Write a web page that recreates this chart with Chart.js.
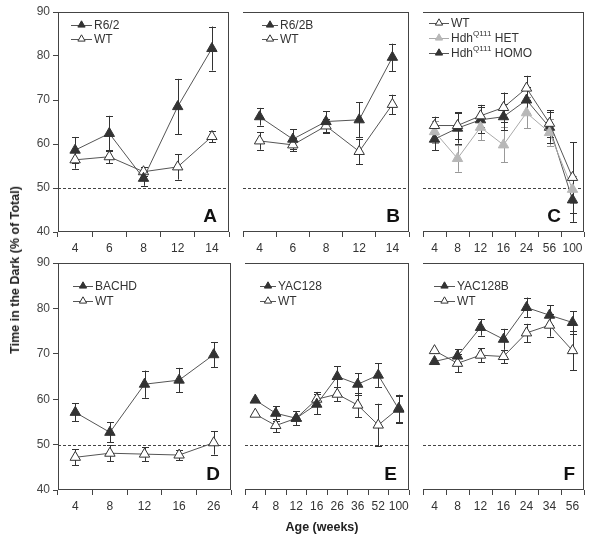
<!DOCTYPE html>
<html><head><meta charset="utf-8">
<script src="https://cdn.jsdelivr.net/npm/chart.js@4/dist/chart.umd.min.js"></script>
<style>
html,body{margin:0;padding:0;background:#fff;width:600px;height:539px;overflow:hidden;font-family:"Liberation Sans",Arial,sans-serif}
canvas{position:absolute}
#ytitle{position:absolute;left:15px;top:270px;transform:translate(-50%,-50%) rotate(-90deg);font-weight:bold;font-size:12.5px;color:#222;white-space:nowrap}
#xtitle{position:absolute;left:322px;top:527px;transform:translate(-50%,-50%);font-weight:bold;font-size:12.5px;color:#222;white-space:nowrap}
</style></head><body>
<canvas id="cA" width="236" height="262" style="left:0;top:0"></canvas>
<canvas id="cB" width="180" height="262" style="left:236px;top:0"></canvas>
<canvas id="cC" width="175" height="262" style="left:416px;top:0"></canvas>
<canvas id="cD" width="238" height="290" style="left:0;top:250px"></canvas>
<canvas id="cE" width="178" height="290" style="left:238px;top:250px"></canvas>
<canvas id="cF" width="175" height="290" style="left:416px;top:250px"></canvas>
<div id="ytitle">Time in the Dark (% of Total)</div>
<div id="xtitle">Age (weeks)</div>
<script>
// ---- data ----
const ageA = ['4','6','8','12','14'];
const r62 = [58.6, 62.4, 52.2, 68.5, 81.7];
const r62Err = [3, 4, 1.7, 6.3, 5];
const wtA = [56.4, 57.1, 53.7, 54.8, 61.7];
const wtAErr = [2, 1.5, 1, 2.9, 1.3];

const ageB = ['4','6','8','12','14'];
const r62b = [66.2, 61.1, 65.1, 65.5, 79.7];
const r62bErr = [2, 2.2, 2.4, 4, 3.1];
const wtB = [60.7, 59.8, 64.1, 58.3, 69.0];
const wtBErr = [2, 1.5, 1.5, 2.9, 2.2];

const ageC = ['4','8','12','16','24','56','100'];
const wtC = [64.2, 64.2, 66.4, 68.3, 72.7, 64.7, 52.4];
const wtCErr = [2, 3, 2.5, 3.4, 2.8, 3, 8];
const hetC = [62.8, 56.7, 63.8, 59.8, 67.1, 62.6, 49.7];
const hetCErr = [2.5, 3, 3, 4, 3.5, 3, 3];
const homoC = [61.1, 63.6, 65.5, 66.2, 70.0, 63.8, 47.3];
const homoCErr = [2.5, 3.5, 3, 3, 3, 3.5, 5];

const ageD = ['4','8','12','16','26'];
const bachd = [57.1, 52.7, 63.3, 64.2, 69.8];
const bachdErr = [2, 2.2, 3, 2.7, 2.8];
const wtD = [47.2, 48.1, 47.9, 47.7, 50.4];
const wtDErr = [1.8, 1.8, 1.5, 1.2, 2.6];

const ageE = ['4','8','12','16','26','36','52','100'];
const yac = [59.8, 56.9, 55.8, 58.9, 65.0, 63.3, 65.3, 57.8];
const yacErr = [0, 1.6, 1.5, 2.2, 2.3, 2.4, 2.6, 3];
const wtE = [56.7, 54.2, 55.8, 60.0, 61.1, 58.7, 54.3, 58.0];
const wtEErr = [0, 1.5, 1.5, 1.6, 1.5, 2.7, 4.7, 3];

const ageF = ['4','8','12','16','24','34','56'];
const yacb = [68.3, 69.5, 75.8, 73.2, 80.2, 78.5, 76.9];
const yacbErr = [0, 1.5, 1.8, 2.3, 2.2, 2.2, 2.5];
const wtF = [70.7, 67.9, 69.7, 69.4, 74.6, 76.3, 70.7];
const wtFErr = [0, 2, 1.5, 1.5, 2, 2.5, 4.3];

const yTicks = [40, 50, 60, 70, 80, 90];
const refLine = 50;

// ---- styles ----
const FONT = '"Liberation Sans", Arial, Helvetica, sans-serif';
Chart.defaults.font.family = FONT;
const DARK = '#333';
const LINE = '#555';
const GRAY = '#b8b8b8';

function filled(label, data, err, parts) {
  return {label, data, errors: err, legendParts: parts || [[label, false]],
    borderColor: LINE, borderWidth: 1, pointStyle: 'triangle', pointRadius: 6,
    pointBackgroundColor: DARK, pointBorderColor: DARK, pointBorderWidth: 1,
    errColor: DARK, tension: 0, fill: false};
}
function open(label, data, err, parts) {
  return {label, data, errors: err, legendParts: parts || [[label, false]],
    borderColor: LINE, borderWidth: 1, pointStyle: 'triangle', pointRadius: 6,
    pointBackgroundColor: '#fff', pointBorderColor: DARK, pointBorderWidth: 1,
    errColor: DARK, tension: 0, fill: false};
}
function grayS(label, data, err, parts) {
  return {label, data, errors: err, legendParts: parts || [[label, false]],
    borderColor: '#aaa', borderWidth: 1, pointStyle: 'triangle', pointRadius: 6,
    pointBackgroundColor: GRAY, pointBorderColor: GRAY, pointBorderWidth: 1,
    errColor: '#999', tension: 0, fill: false};
}

function tri(ctx, x, y, r, fillC, strokeC) {
  ctx.beginPath();
  for (let k = 0; k < 3; k++) {
    const a = k * 2 * Math.PI / 3;
    const px = x + Math.sin(a) * r, py = y - Math.cos(a) * r;
    if (k === 0) ctx.moveTo(px, py); else ctx.lineTo(px, py);
  }
  ctx.closePath();
  ctx.fillStyle = fillC; ctx.fill();
  ctx.strokeStyle = strokeC; ctx.lineWidth = 1; ctx.stroke();
}

const decor = {
  id: 'decor',
  beforeDatasetsDraw(chart, args, o) {
    const {ctx, chartArea: a} = chart;
    const y = chart.scales.y;
    ctx.save();
    const y50 = Math.round(y.getPixelForValue(refLine)) + 0.5;
    ctx.strokeStyle = '#444'; ctx.lineWidth = 1; ctx.setLineDash([3, 2]);
    ctx.beginPath(); ctx.moveTo(a.left, y50); ctx.lineTo(a.right, y50); ctx.stroke();
    ctx.setLineDash([]);
    chart.data.datasets.forEach((ds, i) => {
      const meta = chart.getDatasetMeta(i);
      ds.errors.forEach((e, j) => {
        if (!e) return;
        const px = Math.round(meta.data[j].x) + 0.5;
        const t = y.getPixelForValue(ds.data[j] + e), b = y.getPixelForValue(ds.data[j] - e);
        ctx.strokeStyle = ds.errColor; ctx.lineWidth = 1;
        ctx.beginPath();
        ctx.moveTo(px, t); ctx.lineTo(px, b);
        ctx.moveTo(px - 3.5, Math.round(t) + 0.5); ctx.lineTo(px + 3.5, Math.round(t) + 0.5);
        ctx.moveTo(px - 3.5, Math.round(b) + 0.5); ctx.lineTo(px + 3.5, Math.round(b) + 0.5);
        ctx.stroke();
      });
    });
    ctx.restore();
  },
  afterDraw(chart, args, o) {
    const {ctx, chartArea: a} = chart;
    ctx.save();
    // frame
    ctx.strokeStyle = '#444'; ctx.lineWidth = 1;
    const L = Math.round(a.left) + 0.5, R = Math.round(a.right) - 0.5;
    const T = Math.round(a.top) + 0.5, B = Math.round(a.bottom) - 0.5;
    ctx.beginPath();
    if (o.leftEdge) { ctx.moveTo(L, T); ctx.lineTo(L, B); }
    ctx.moveTo(a.left, T); ctx.lineTo(a.right, T);
    ctx.moveTo(a.left, B); ctx.lineTo(a.right, B);
    ctx.moveTo(R, T); ctx.lineTo(R, B);
    ctx.stroke();
    // legend
    const lg = o.legend;
    ctx.textBaseline = 'middle'; ctx.textAlign = 'left';
    chart.data.datasets.forEach((ds, i) => {
      const yy = a.top + lg.dy + i * lg.gap;
      const x0 = a.left + lg.dx, x1 = x0 + lg.len;
      ctx.strokeStyle = ds.borderColor; ctx.lineWidth = 1;
      ctx.beginPath(); ctx.moveTo(x0, Math.round(yy) + 0.5); ctx.lineTo(x1, Math.round(yy) + 0.5); ctx.stroke();
      tri(ctx, (x0 + x1) / 2, yy, 4.2, ds.pointBackgroundColor, ds.pointBorderColor);
      let tx = x1 + 2;
      ctx.fillStyle = DARK;
      ds.legendParts.forEach(([t, sup]) => {
        ctx.font = (sup ? '8px ' : '12px ') + FONT;
        ctx.fillText(t, tx, sup ? yy - 4 : yy + 0.5);
        tx += ctx.measureText(t).width;
      });
    });
    // panel letter
    ctx.font = 'bold 19px ' + FONT;
    ctx.fillStyle = '#111'; ctx.textAlign = 'right'; ctx.textBaseline = 'alphabetic';
    ctx.fillText(o.letter, a.right - o.letterDx, a.bottom - 10);
    ctx.restore();
  }
};

function makeChart(id, labels, datasets, opt) {
  const yScale = opt.showY ? {
    min: 40, max: 90,
    afterBuildTicks(s) { s.ticks = yTicks.map(v => ({value: v})); },
    ticks: {color: '#444', font: {size: 12}, padding: 3},
    grid: {drawOnChartArea: false, tickLength: 5, color: '#444'},
    border: {display: false},
    afterFit(s) { s.width = opt.yWidth; }
  } : {display: false, min: 40, max: 90};
  return new Chart(document.getElementById(id), {
    type: 'line',
    data: {labels, datasets},
    options: {
      responsive: false, animation: false, events: [],
      layout: {padding: {top: opt.padTop, bottom: opt.padBottom, left: 0, right: 0}},
      scales: {
        x: {
          type: 'category', offset: true,
          grid: {offset: true, drawOnChartArea: false, tickLength: 5, color: '#444'},
          border: {display: false},
          ticks: {color: DARK, font: {size: 12}, padding: 4, maxRotation: 0, autoSkip: false},
          afterFit(s) { s.height = 30; }
        },
        y: yScale
      },
      plugins: {
        legend: {display: false}, tooltip: {enabled: false},
        decor: {letter: opt.letter, letterDx: opt.letterDx, legend: opt.legend, leftEdge: !!opt.showY}
      }
    },
    plugins: [decor]
  });
}

const rowTop = {padTop: 12, padBottom: 0};
const rowBot = {padTop: 13, padBottom: 20};

makeChart('cA', ageA, [filled('R6/2', r62, r62Err), open('WT', wtA, wtAErr)],
  {...rowTop, showY: true, yWidth: 58, letter: 'A', letterDx: 12, legend: {dx: 13, len: 21, dy: 13, gap: 14}});
makeChart('cB', ageB, [filled('R6/2B', r62b, r62bErr), open('WT', wtB, wtBErr)],
  {...rowTop, letter: 'B', letterDx: 9, legend: {dx: 19, len: 16, dy: 13, gap: 14}});
makeChart('cC', ageC, [
    open('WT', wtC, wtCErr),
    grayS('Hdh Q111 HET', hetC, hetCErr, [['Hdh', false], ['Q111', true], [' HET', false]]),
    filled('Hdh Q111 HOMO', homoC, homoCErr, [['Hdh', false], ['Q111', true], [' HOMO', false]])],
  {...rowTop, letter: 'C', letterDx: 23, legend: {dx: 6, len: 20, dy: 11, gap: 15}});
makeChart('cD', ageD, [filled('BACHD', bachd, bachdErr), open('WT', wtD, wtDErr)],
  {...rowBot, showY: true, yWidth: 58, letter: 'D', letterDx: 11, legend: {dx: 15, len: 20, dy: 23, gap: 15}});
makeChart('cE', ageE, [filled('YAC128', yac, yacErr), open('WT', wtE, wtEErr)],
  {...rowBot, letter: 'E', letterDx: 12, legend: {dx: 15, len: 16, dy: 23, gap: 15}});
makeChart('cF', ageF, [filled('YAC128B', yacb, yacbErr), open('WT', wtF, wtFErr)],
  {...rowBot, letter: 'F', letterDx: 9, legend: {dx: 11, len: 21, dy: 23, gap: 15}});
</script>
</body></html>
